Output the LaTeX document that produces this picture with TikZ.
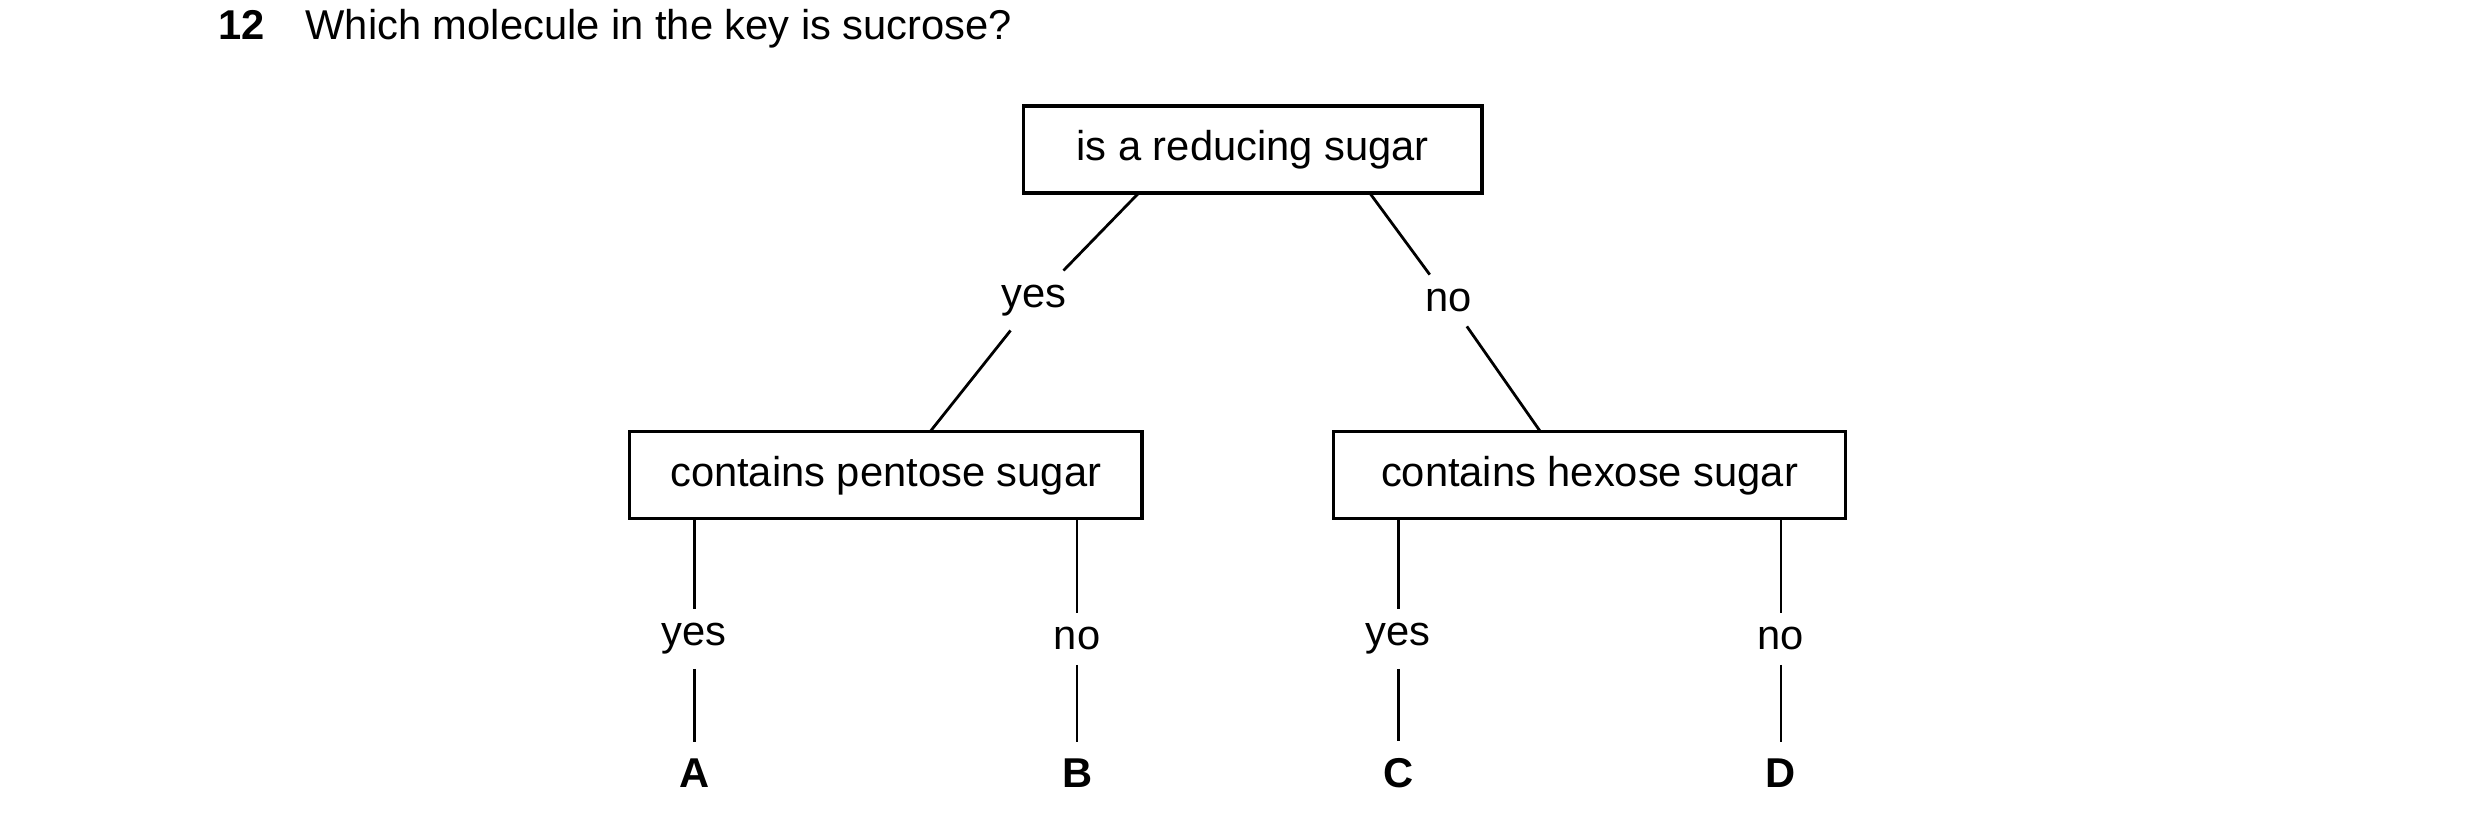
\documentclass[tikz,border=0pt]{standalone}
\usepackage{fontspec}
\setmainfont{Liberation Sans}
\usetikzlibrary{positioning}

\begin{document}
\begin{tikzpicture}[
        x=0.02cm, y=-0.02cm,
        every node/.style={font=\fontsize{15}{18}\selectfont},
        keybox/.style={rectangle, draw=black, line width=1.2pt, minimum width=5.8cm,
                       minimum height=1.1cm, text centered},
        choice/.style={inner sep=5pt},
        answer/.style={font=\fontsize{15}{18}\selectfont\bfseries, inner sep=6pt},
        link/.style={line width=1pt}
    ]
        \useasboundingbox (0,0) rectangle (1568,524);

        % question
        \node[anchor=base west, font=\fontsize{15}{18}\selectfont\bfseries] (qnum) at (132,25) {12};
        \node[anchor=base west] (qtext) at (187,25) {Which molecule in the key is sucrose?};

        % key boxes
        \node[keybox] (reducing) at (792,94.5) {is a reducing sugar};
        \node[keybox, minimum width=6.48cm] (pentose) at (560,300.5) {contains pentose sugar};
        \node[keybox, minimum width=6.48cm] (hexose) at (1005,300.5) {contains hexose sugar};

        % first branch
        \node[choice] (yestop) at (654,190) {yes};
        \node[choice] (notop) at (916,190) {no};
        \coordinate (rl) at (720,122);
        \coordinate (rr) at (866,122);
        \coordinate (pt) at (588,273);
        \coordinate (ht) at (974,273);

        \draw[link] (rl) -- (yestop);
        \draw[link] (yestop) -- (pt);
        \draw[link] (rr) -- (notop);
        \draw[link] (notop) -- (ht);

        % second branch
        \node[choice] (yesA) at (439,404) {yes};
        \node[choice] (noB) at (681,404) {no};
        \node[choice] (yesC) at (884,404) {yes};
        \node[choice] (noD) at (1126,404) {no};

        \node[answer] (A) at (439,489) {A};
        \node[answer] (B) at (681,489) {B};
        \node[answer] (C) at (884,489) {C};
        \node[answer] (D) at (1126,489) {D};

        \draw[link] (pentose.south -| yesA) -- (yesA);
        \draw[link] (pentose.south -| noB) -- (noB);
        \draw[link] (hexose.south -| yesC) -- (yesC);
        \draw[link] (hexose.south -| noD) -- (noD);

        \draw[link] (yesA) -- (A);
        \draw[link] (noB) -- (B);
        \draw[link] (yesC) -- (C);
        \draw[link] (noD) -- (D);
    \end{tikzpicture}
\end{document}
